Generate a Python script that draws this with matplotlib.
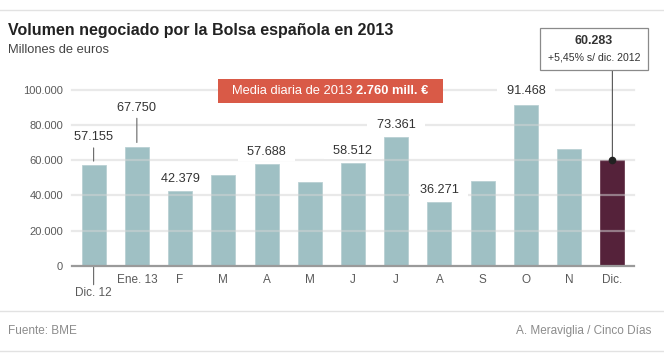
import matplotlib

matplotlib.use("Agg")
import matplotlib.pyplot as plt
from matplotlib.lines import Line2D
from matplotlib.offsetbox import AnnotationBbox, HPacker, TextArea, VPacker
from matplotlib.patches import Rectangle

plt.rcParams["font.family"] = ["Liberation Sans", "DejaVu Sans"]

# data (millones de euros)
months = ["Dic. 12", "Ene. 13", "F", "M", "A", "M", "J", "J", "A", "S", "O", "N", "Dic."]
volume = [57155, 67750, 42379, 51700, 57688, 47900, 58512, 73361, 36271, 48100, 91468, 66700, 60283]
labelled = [0, 1, 2, 4, 6, 7, 8, 10]
yticks = [0, 20000, 40000, 60000, 80000, 100000]
ytick_labels = ["0", "20.000", "40.000", "60.000", "80.000", "100.000"]
dic_change = "+5,45% s/ dic. 2012"
media_text = "Media diaria de 2013 "
media_value = "2.760 mill. €"

W, H = 664, 361
BAR = "#9fc0c4"
DARK = "#55223a"
TXT = "#333333"


def fx(px):
    return px / W


def fy(py):
    return 1 - py / H


fig = plt.figure(figsize=(W / 100, H / 100), dpi=100)
ax = fig.add_axes([fx(72), fy(265.7), (634 - 72) / W, (265.7 - 90) / H])

colors = [BAR] * (len(months) - 1) + [DARK]
x = list(range(len(months)))
ax.bar(x, volume, width=0.555, color=colors, edgecolor="#b9d0d3", linewidth=0.6, zorder=2)
ax.patches[-1].set_edgecolor("#6a3a50")

for y in yticks[1:]:
    ax.axhline(y, color="#d4d4d4", alpha=0.5, lw=1.6, zorder=3, clip_on=False)
ax.axhline(0, color="#9a9a9a", lw=1.6, zorder=4, clip_on=False)

ax.set_xlim(-0.5, len(months) - 0.5)
ax.set_ylim(0, 100000)
for s in ax.spines.values():
    s.set_visible(False)
ax.set_yticks(yticks, ytick_labels)
ax.set_xticks(x, [""] + months[1:])
ax.tick_params(axis="y", length=0, pad=6.5, labelsize=8, labelcolor="#5a5a5a")
ax.tick_params(axis="x", length=0, pad=6, labelsize=8.5, labelcolor="#5a5a5a")

# first month label sits lower, with a leader line
ax.annotate(months[0], xy=(0, 0), xytext=(0, -20), textcoords="offset points",
            ha="center", va="center", fontsize=8.5, color="#5a5a5a",
            arrowprops=dict(arrowstyle="-", color="#666666", lw=0.8,
                            shrinkA=0, shrinkB=1, relpos=(0.5, 1)),
            annotation_clip=False)

# value labels
lift_px = {0: 28, 1: 39, 10: 14}
for i in labelled:
    txt = "  " + f"{volume[i]:,}".replace(",", ".") + "  "
    off = lift_px.get(i, 12) * 0.72
    arrow = None
    if i in (0, 1):
        arrow = dict(arrowstyle="-", color="#666666", lw=0.8, shrinkA=1.5, shrinkB=3,
                     relpos=(0.5, 0))
    ax.annotate(txt, xy=(i, volume[i]), xytext=(0, off), textcoords="offset points",
                ha="center", va="center", fontsize=9.2, color=TXT, zorder=6,
                bbox=dict(boxstyle="square,pad=0.2", fc="white", ec="none"),
                arrowprops=arrow, annotation_clip=False)

# December callout
last = len(months) - 1
ax.annotate("", xy=(last, volume[last]), xytext=(0, 65), textcoords="offset points",
            arrowprops=dict(arrowstyle="-", color="#555555", lw=0.8, shrinkA=0, shrinkB=0),
            annotation_clip=False, zorder=6)
ax.plot([last], [volume[last]], "o", ms=4.5, color="#222222", zorder=7, clip_on=False)
fig.patches.append(Rectangle((fx(540), fy(70)), 108 / W, 42 / H, transform=fig.transFigure,
                             fc="white", ec="#8a8a8a", lw=0.9))
box = VPacker(children=[
    TextArea(f"{volume[last]:,}".replace(",", "."),
             textprops=dict(fontsize=9, fontweight="bold", color=TXT)),
    TextArea(dic_change, textprops=dict(fontsize=7.6, color=TXT)),
], align="center", pad=0, sep=4)
fig.add_artist(AnnotationBbox(box, (fx(594), fy(49)), xycoords="figure fraction",
                              frameon=False, box_alignment=(0.5, 0.5)))

# daily average banner
fig.patches.append(Rectangle((fx(218), fy(103)), 225 / W, 24 / H, transform=fig.transFigure,
                             fc="#d95a47", ec="none"))
banner = HPacker(children=[
    TextArea(media_text, textprops=dict(fontsize=9.3, color="white")),
    TextArea(media_value, textprops=dict(fontsize=9.3, color="white", fontweight="bold")),
], align="baseline", pad=0, sep=0)
fig.add_artist(AnnotationBbox(banner, (fx(330.5), fy(91)), xycoords="figure fraction",
                              frameon=False, box_alignment=(0.5, 0.5)))

# titles
fig.text(fx(8), fy(31), "Volumen negociado por la Bolsa española en 2013",
         fontsize=11.5, fontweight="bold", color="#222222", va="center")
fig.text(fx(8), fy(50), "Millones de euros", fontsize=9.3, color="#444444", va="center")

# frame lines and footer
for py in (10, 311, 351):
    fig.add_artist(Line2D([0, 1], [fy(py), fy(py)], transform=fig.transFigure,
                          color="#e2e2e2", lw=1))
fig.text(fx(8), fy(331), "Fuente: BME", fontsize=8.5, color="#8c8c8c", va="center")
fig.text(fx(651), fy(331), "A. Meraviglia / Cinco Días", fontsize=8.5, color="#8c8c8c",
         va="center", ha="right")

fig.savefig("out.png", dpi=100)
